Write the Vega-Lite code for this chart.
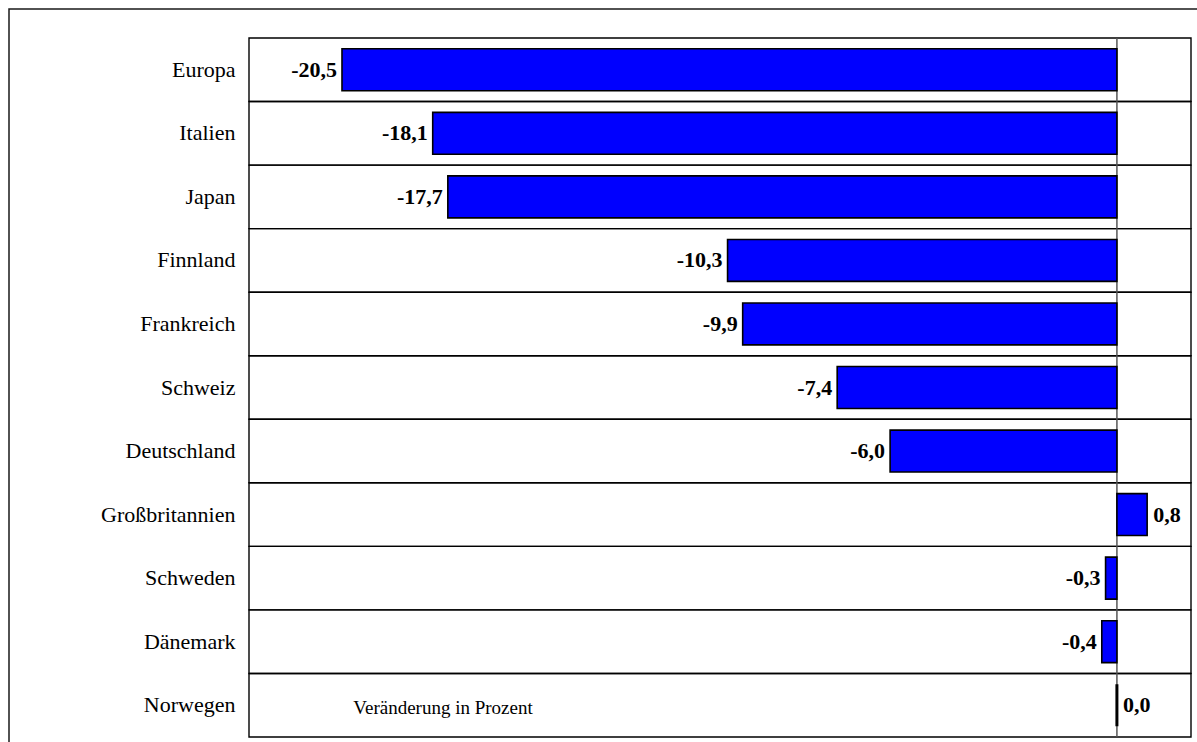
{
  "$schema": "https://vega.github.io/schema/vega-lite/v6.json",
  "width": 1200,
  "height": 745,
  "padding": {"left": 9, "top": 9, "right": 0, "bottom": 0},
  "autosize": {"type": "none"},
  "background": "white",
  "config": {
    "view": {"stroke": "#1a1a1a", "strokeWidth": 1.5},
    "font": "Liberation Serif",
    "locale": {
      "number": {"decimal": ",", "thousands": ".", "grouping": [3], "currency": ["", " €"], "minus": "-"}
    }
  },
  "data": {
    "values": [
      {"country": "Europa", "value": -20.5},
      {"country": "Italien", "value": -18.1},
      {"country": "Japan", "value": -17.7},
      {"country": "Finnland", "value": -10.3},
      {"country": "Frankreich", "value": -9.9},
      {"country": "Schweiz", "value": -7.4},
      {"country": "Deutschland", "value": -6.0},
      {"country": "Großbritannien", "value": 0.8},
      {"country": "Schweden", "value": -0.3},
      {"country": "Dänemark", "value": -0.4},
      {"country": "Norwegen", "value": 0.0}
    ]
  },
  "encoding": {
    "y": {
      "field": "country",
      "type": "nominal",
      "sort": null,
      "scale": {"range": [29, 728], "paddingInner": 0, "paddingOuter": 0},
      "axis": {
        "title": null,
        "offset": -240,
        "domain": false,
        "ticks": false,
        "grid": false,
        "labelPadding": 14,
        "labelFont": "Liberation Serif",
        "labelFontSize": 22,
        "labelColor": "black"
      }
    }
  },
  "layer": [
    {
      "description": "One framed cell per row: together they draw the plot box and the row separators",
      "mark": {"type": "rect", "fill": null, "stroke": "black", "strokeWidth": 1.4},
      "encoding": {
        "x": {
          "datum": -22.96,
          "type": "quantitative",
          "scale": {"domain": [-22.96, 1.96], "range": [240, 1182], "nice": false, "zero": false},
          "axis": null
        },
        "x2": {"datum": 1.96}
      }
    },
    {
      "description": "Zero line, one segment per row",
      "mark": {"type": "rect", "fill": null, "stroke": "#555555", "strokeWidth": 1},
      "encoding": {
        "x": {"datum": 0, "type": "quantitative"},
        "x2": {"datum": 0}
      }
    },
    {
      "mark": {"type": "bar", "height": {"band": 0.66}, "fill": "#0000ff", "stroke": "black"},
      "encoding": {
        "x": {"field": "value", "type": "quantitative"},
        "x2": {"datum": 0},
        "strokeWidth": {"condition": {"test": "datum.value === 0", "value": 3}, "value": 1.6}
      }
    },
    {
      "transform": [{"filter": "datum.value < 0"}],
      "mark": {"type": "text", "align": "right", "baseline": "middle", "dx": -5, "font": "Liberation Serif", "fontSize": 22, "fontWeight": "bold", "color": "black"},
      "encoding": {
        "x": {"field": "value", "type": "quantitative"},
        "text": {"field": "value", "type": "quantitative", "format": ".1f"}
      }
    },
    {
      "transform": [{"filter": "datum.value >= 0"}],
      "mark": {"type": "text", "align": "left", "baseline": "middle", "dx": 6, "font": "Liberation Serif", "fontSize": 22, "fontWeight": "bold", "color": "black"},
      "encoding": {
        "x": {"field": "value", "type": "quantitative"},
        "text": {"field": "value", "type": "quantitative", "format": ".1f"}
      }
    },
    {
      "data": {"values": [{"country": "Norwegen", "value": -20.2, "note": "Veränderung in Prozent"}]},
      "mark": {"type": "text", "align": "left", "baseline": "middle", "dy": 3, "font": "Liberation Serif", "fontSize": 19, "color": "black"},
      "encoding": {
        "x": {"field": "value", "type": "quantitative"},
        "text": {"field": "note"}
      }
    }
  ]
}
